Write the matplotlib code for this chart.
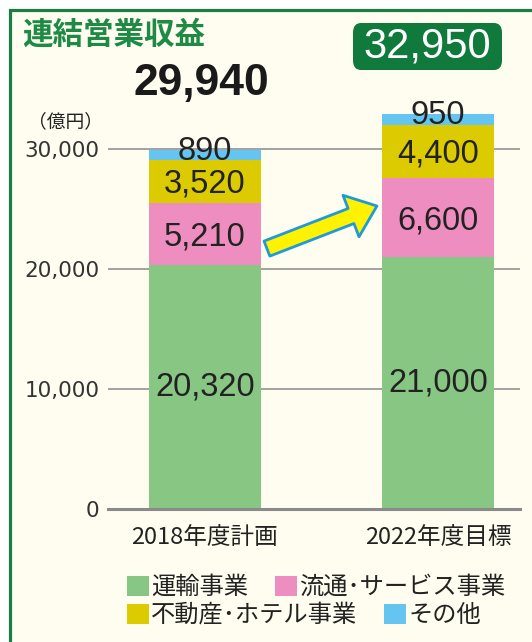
"""
Stacked bar chart: consolidated operating revenue by segment (plan vs target).
"""

import matplotlib

matplotlib.use("Agg")
import matplotlib.pyplot as plt
import matplotlib.patches as mpatches
import numpy as np

# --- data -----------------------------------------------------------------
categories = ["2018年度計画", "2022年度目標"]
segments = ["運輸事業", "流通･サービス事業", "不動産･ホテル事業", "その他"]
transport = [20320, 21000]
retail_service = [5210, 6600]
real_estate_hotel = [3520, 4400]
other = [890, 950]
yticks = [0, 10000, 20000, 30000]

series = [transport, retail_service, real_estate_hotel, other]
colors = ["#88c684", "#ee8dbf", "#dccb00", "#66c5f0"]
# where the value label sits inside each segment (fraction of its height);
# the thin top segment carries its label across the bar's top edge
label_frac = [0.5, 0.45, 0.45, 0.85]

JP = ["Noto Sans CJK JP", "DejaVu Sans"]
NUM = ["Liberation Sans", "DejaVu Sans"]
GREEN = "#1b7d44"
CREAM = "#fffdf0"

W, H = 532, 642
fig = plt.figure(figsize=(W / 100, H / 100), dpi=100, facecolor="white")

# cream panel with green frame (right/bottom edges fall outside the picture)
fig.patches.append(
    mpatches.Rectangle(
        (9.5 / W, -0.1), 1.2, 1 - 9.5 / H + 0.1,
        transform=fig.transFigure, facecolor=CREAM, edgecolor=GREEN,
        linewidth=2.3, zorder=-10,
    )
)

ax = fig.add_axes([108 / W, 1 - 509 / H, 412 / W, 396 / H])
ax.set_facecolor("none")

x = np.arange(len(categories))
bottom = np.zeros(len(categories))
for vals, col, frac in zip(series, colors, label_frac):
    ax.bar(x, vals, width=0.48, bottom=bottom, color=col, zorder=2)
    for xi, b, v in zip(x, bottom, vals):
        ax.text(xi, b + v * frac, f"{v:,}", ha="center", va="center",
                fontsize=23.5, family=NUM, color="#222222", zorder=4,
                clip_on=False)
    bottom += vals
totals = bottom.astype(int)

ax.set_xlim(-0.416, 1.352)
ax.set_ylim(0, 33000)
ax.set_yticks(yticks)
ax.set_yticklabels([f"{t:,}" for t in yticks], family="DejaVu Sans",
                   fontsize=15.5, color="#333333")
ax.set_xticks(x)
ax.set_xticklabels(categories, family=JP, fontsize=17, color="#222222")
ax.tick_params(axis="y", length=0, pad=6)
ax.tick_params(axis="x", length=0, pad=12)
for s in ["top", "right", "left"]:
    ax.spines[s].set_visible(False)
ax.spines["bottom"].set_color("#8a8a8a")
ax.spines["bottom"].set_linewidth(2.2)
ax.grid(axis="y", color="#9a9a9a", linewidth=1.3)
ax.set_axisbelow(True)

# growth arrow between the two bars
ax.annotate(
    "", xy=(0.738, 25250), xytext=(0.266, 21700),
    arrowprops=dict(
        arrowstyle="simple,head_length=1.0,head_width=1.6,tail_width=0.58",
        mutation_scale=20, fc="#fff200", ec="#1e9bd7", lw=2,
        shrinkA=0, shrinkB=0,
    ),
    zorder=5,
)

# titles and totals
fig.text(22 / W, 1 - 35 / H, "連結営業収益", family=JP, fontsize=22,
         fontweight="bold", color="#1f8a46", ha="left", va="center")
fig.text(201 / W, 1 - 84 / H, f"{totals[0]:,}", family=NUM, fontsize=32,
         fontweight="bold", color="#1a1a1a", ha="center", va="center")
fig.patches.append(
    mpatches.FancyBboxPatch(
        (353 / W, 1 - 70 / H), 149 / W, 47 / H,
        boxstyle="round,pad=0,rounding_size=0.015",
        transform=fig.transFigure, facecolor="#0f7a3c", edgecolor="none",
        zorder=3,
    )
)
fig.text(427.5 / W, 1 - 46.5 / H, f"{totals[1]:,}", family=NUM, fontsize=30,
         color="white", ha="center", va="center", zorder=4)
fig.text(28 / W, 1 - 122 / H, "（億円）", family=JP, fontsize=13.5,
         color="#222222", ha="left", va="center")

# legend, two rows
handles = [mpatches.Patch(facecolor=c, edgecolor="none") for c in colors]
leg_kw = dict(loc="center left", frameon=False, ncol=2, borderpad=0,
              borderaxespad=0, handlelength=0.9, handleheight=0.9,
              handletextpad=0.1, columnspacing=1.1,
              prop={"family": JP, "size": 17.5})
leg1 = fig.legend(handles[:2], segments[:2],
                  bbox_to_anchor=(127 / W, 1 - 587 / H), **leg_kw)
leg2 = fig.legend(handles[2:], segments[2:],
                  bbox_to_anchor=(127 / W, 1 - 615 / H), **leg_kw)
for leg in (leg1, leg2):
    for t in leg.get_texts():
        t.set_color("#222222")

fig.savefig("out.png", dpi=100, facecolor=fig.get_facecolor())
